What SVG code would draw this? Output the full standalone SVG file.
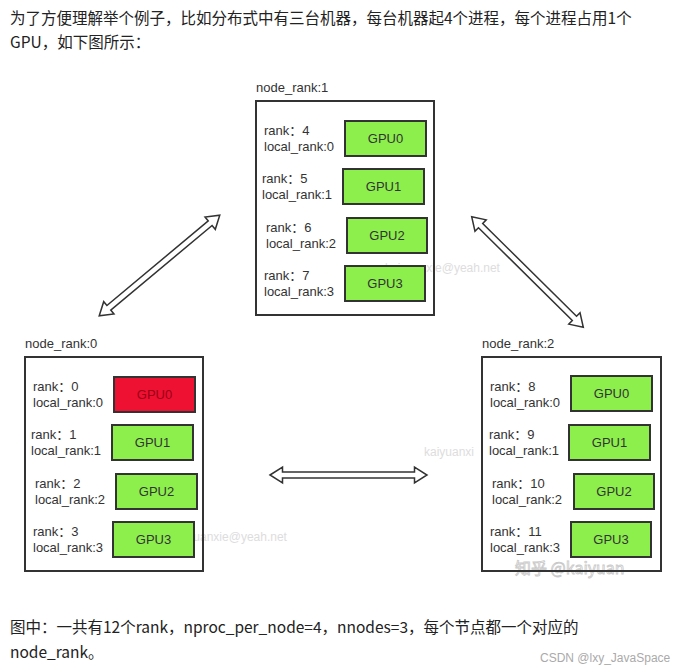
<svg xmlns="http://www.w3.org/2000/svg" width="673" height="671" viewBox="0 0 673 671">
<style>
.para{font-family:"Noto Sans CJK SC","Noto Sans",sans-serif;font-size:15.5px;fill:#222}
.lbl{font-family:"Liberation Sans","Noto Sans CJK SC",sans-serif;font-size:13px;fill:#333}
.gpu{font-family:"Liberation Sans",sans-serif;font-size:13px;fill:#333;text-anchor:middle}
.box{fill:#fff;stroke:#333;stroke-width:2}
.g{fill:#8DEF4C;stroke:#333;stroke-width:2}
.r{fill:#EE1131;stroke:#333;stroke-width:2}
.wm{font-family:"Liberation Sans",sans-serif;font-size:12px;fill:#c8c8c8;opacity:0.6}
.arr{fill:#fff;stroke:#333;stroke-width:1.5;stroke-linejoin:miter}
</style>
<defs>
<path id="darrow" class="arr" d="M-78.5 0 L-66 -8 L-66 -3 L66 -3 L66 -8 L78.5 0 L66 8 L66 3 L-66 3 L-66 8 Z"/>
</defs>
<rect width="673" height="671" fill="#fff"/>
<text class="para" x="10" y="24">为了方便理解举个例子，比如分布式中有三台机器，每台机器起4个进程，每个进程占用1个</text>
<text class="para" x="10" y="48">GPU，如下图所示：</text>

<g id="watermarks">
<text class="wm" x="385" y="272">kaiyuanxie@yeah.net</text>
<text class="wm" x="172" y="541">kaiyuanxie@yeah.net</text>
<text class="wm" x="424" y="456">kaiyuanxi</text>
<text x="515" y="574" style="font-family:'Noto Sans CJK SC',sans-serif;font-size:16px;fill:#fff;stroke:#bbb;stroke-width:0.8;opacity:0.8">知乎 @kaiyuan</text>
</g>

<g id="node1">
<text class="lbl" x="256" y="92">node_rank:1</text>
<rect class="box" x="256" y="101" width="178" height="214" style="fill:none"/>
<rect class="g" x="345" y="121" width="81" height="35"/><text class="gpu" x="385.5" y="143">GPU0</text>
<rect class="g" x="343" y="169" width="81" height="35"/><text class="gpu" x="383.5" y="191">GPU1</text>
<rect class="g" x="347" y="218" width="80" height="35"/><text class="gpu" x="387" y="240">GPU2</text>
<rect class="g" x="345" y="266" width="80" height="35"/><text class="gpu" x="385" y="288">GPU3</text>
<text class="lbl" x="264" y="135">rank：4</text><text class="lbl" x="264" y="151">local_rank:0</text>
<text class="lbl" x="262" y="183">rank：5</text><text class="lbl" x="262" y="199">local_rank:1</text>
<text class="lbl" x="266" y="232">rank：6</text><text class="lbl" x="266" y="248">local_rank:2</text>
<text class="lbl" x="264" y="280">rank：7</text><text class="lbl" x="264" y="296">local_rank:3</text>
</g>

<g id="node0">
<text class="lbl" x="25" y="348">node_rank:0</text>
<rect class="box" x="25" y="357" width="178" height="214" style="fill:none"/>
<rect class="r" x="114" y="377" width="81" height="35"/><text class="gpu" x="154.5" y="399" style="fill:#9a0018">GPU0</text>
<rect class="g" x="112" y="425" width="81" height="35"/><text class="gpu" x="152.5" y="447">GPU1</text>
<rect class="g" x="116" y="474" width="81" height="35"/><text class="gpu" x="156.5" y="496">GPU2</text>
<rect class="g" x="113" y="522" width="81" height="35"/><text class="gpu" x="153.5" y="544">GPU3</text>
<text class="lbl" x="33" y="391">rank：0</text><text class="lbl" x="33" y="407">local_rank:0</text>
<text class="lbl" x="31" y="439">rank：1</text><text class="lbl" x="31" y="455">local_rank:1</text>
<text class="lbl" x="35" y="488">rank：2</text><text class="lbl" x="35" y="504">local_rank:2</text>
<text class="lbl" x="33" y="536">rank：3</text><text class="lbl" x="33" y="552">local_rank:3</text>
</g>

<g id="node2">
<text class="lbl" x="482" y="348">node_rank:2</text>
<rect class="box" x="482" y="357" width="179" height="214" style="fill:none"/>
<rect class="g" x="571" y="376" width="81" height="35"/><text class="gpu" x="611.5" y="398">GPU0</text>
<rect class="g" x="569" y="425" width="81" height="35"/><text class="gpu" x="609.5" y="447">GPU1</text>
<rect class="g" x="574" y="474" width="80" height="35"/><text class="gpu" x="614" y="496">GPU2</text>
<rect class="g" x="571" y="522" width="80" height="35"/><text class="gpu" x="611" y="544">GPU3</text>
<text class="lbl" x="490" y="391">rank：8</text><text class="lbl" x="490" y="407">local_rank:0</text>
<text class="lbl" x="489" y="439">rank：9</text><text class="lbl" x="489" y="455">local_rank:1</text>
<text class="lbl" x="492" y="488">rank：10</text><text class="lbl" x="492" y="504">local_rank:2</text>
<text class="lbl" x="490" y="536">rank：11</text><text class="lbl" x="490" y="552">local_rank:3</text>
</g>

<g id="connectors">
<use href="#darrow" transform="translate(159.5 265.5) rotate(-39.85)"/>
<use href="#darrow" transform="translate(527.5 272) rotate(44.7)"/>
<use href="#darrow" transform="translate(348.5 475)"/>
</g>

<text class="para" x="10" y="633">图中：一共有12个rank，nproc_per_node=4，nnodes=3，每个节点都一个对应的</text>
<text class="para" x="10" y="658">node_rank。</text>
<text x="540" y="662" style="font-family:'Liberation Sans',sans-serif;font-size:12px;fill:#aaa">CSDN @lxy_JavaSpace</text>
</svg>
